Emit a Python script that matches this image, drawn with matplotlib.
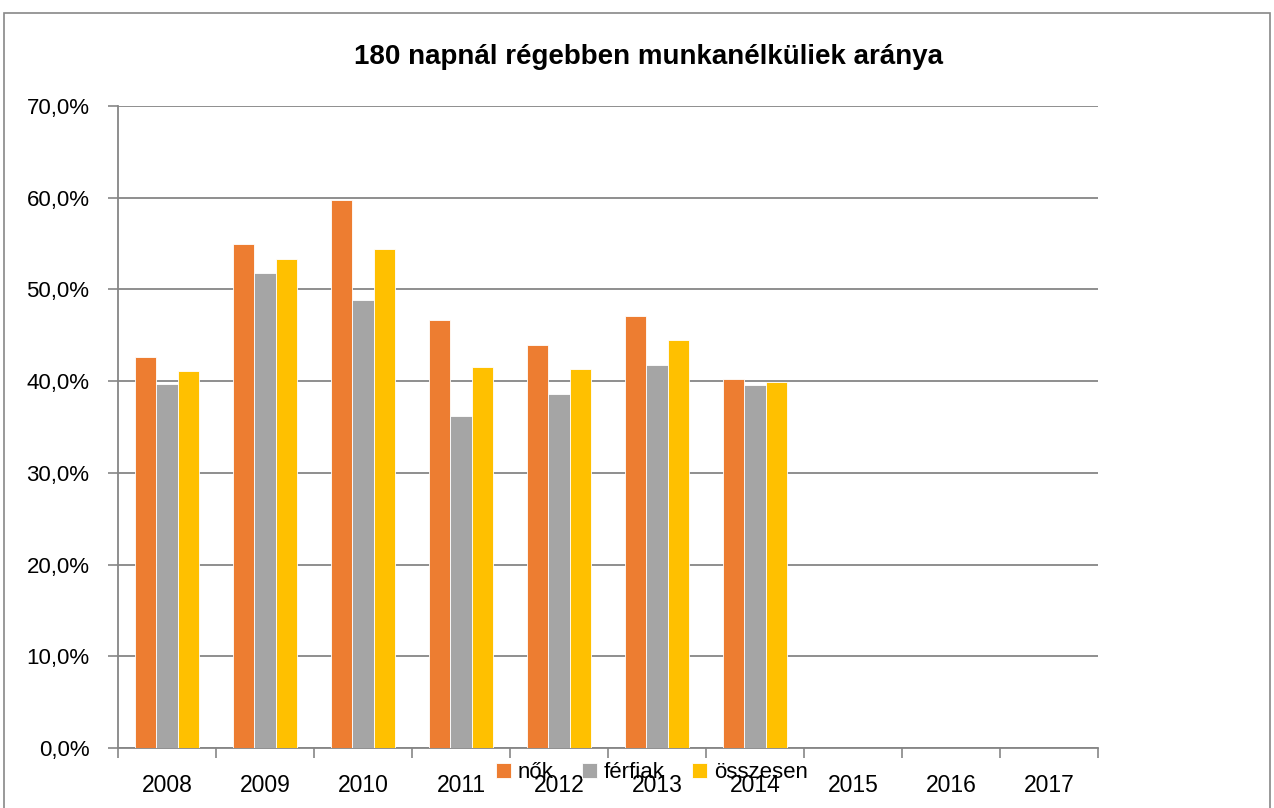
import numpy as np
import matplotlib
matplotlib.use("Agg")
import matplotlib.pyplot as plt
from matplotlib.patches import Rectangle
from matplotlib.ticker import FuncFormatter, FixedLocator

years = ["2008", "2009", "2010", "2011", "2012", "2013", "2014", "2015", "2016", "2017"]
nok = [42.6, 55.0, 59.8, 46.7, 43.9, 47.1, 40.2, np.nan, np.nan, np.nan]
ferfiak = [39.7, 51.8, 48.8, 36.2, 38.6, 41.8, 39.6, np.nan, np.nan, np.nan]
osszesen = [41.1, 53.3, 54.4, 41.5, 41.3, 44.5, 39.9, np.nan, np.nan, np.nan]

series = [("nők", nok, "#ED7D31"), ("férfiak", ferfiak, "#A5A5A5"), ("összesen", osszesen, "#FFC000")]

plt.rcParams['font.family'] = ['Liberation Sans', 'DejaVu Sans']

fig = plt.figure(figsize=(12.74, 8.08), dpi=100)
ax = fig.add_axes([118 / 1274, 1 - 748 / 808, (1098 - 118) / 1274, (748 - 106) / 808])

x = np.arange(len(years))
bar_w = 0.218
for i, (name, vals, col) in enumerate(series):
    ax.bar(x + (i - 1) * bar_w, vals, width=bar_w, color=col, edgecolor="white",
           linewidth=0.6, label=name, zorder=3)

ax.set_xlim(-0.5, len(years) - 0.5)
ax.set_ylim(0, 70)
ax.set_yticks(np.arange(0, 71, 10))
ax.yaxis.set_major_formatter(FuncFormatter(lambda v, p: f"{v:.1f}%".replace(".", ",")))
ax.grid(axis="y", color="#868686", linewidth=1.3, zorder=0)

# year labels centred, tick marks on the category boundaries
ax.set_xticks(x)
ax.set_xticklabels(years)
ax.xaxis.set_minor_locator(FixedLocator(np.arange(-0.5, len(years), 1)))
ax.tick_params(axis="x", which="major", length=0, pad=19, labelsize=16.5)
ax.tick_params(axis="x", which="minor", length=7, width=1.2, color="#868686")
ax.tick_params(axis="y", length=7, width=1.2, color="#868686", pad=13.5, labelsize=16)

for s in ["top", "right"]:
    ax.spines[s].set_visible(False)
for s in ["left", "bottom"]:
    ax.spines[s].set_color("#868686")
    ax.spines[s].set_linewidth(1.3)

fig.text(648 / 1274, 1 - 57 / 808, "180 napnál régebben munkanélküliek aránya",
         ha="center", va="center", fontsize=20, fontweight="bold")

# legend sits over the x tick labels, as in the original
fig.legend(loc="center", bbox_to_anchor=(652 / 1274, 1 - 773 / 808), ncol=3, frameon=False,
           fontsize=16, handlelength=0.68, handleheight=0.68, handletextpad=0.3,
           columnspacing=1.25, borderaxespad=0, borderpad=0)

fig.patches.append(Rectangle((4 / 1274, -0.05), (1270 - 4) / 1274, 1.05 - 13 / 808,
                             transform=fig.transFigure, fill=False, edgecolor="#888888",
                             linewidth=1.2))

fig.savefig("out.png", dpi=100)
